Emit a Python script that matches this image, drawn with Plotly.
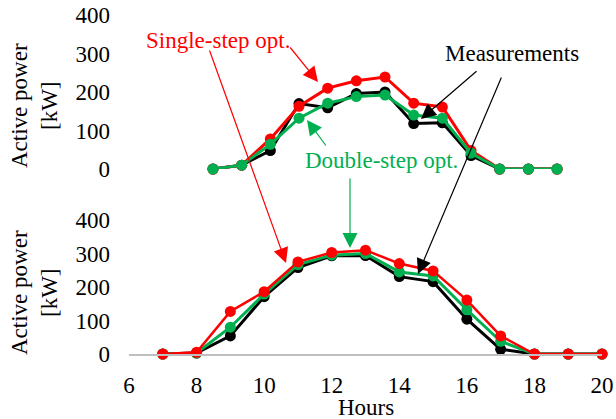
import plotly.graph_objects as go

# ---------------- data ----------------
top_hours = [7, 8, 9, 10, 11, 12, 13, 14, 15, 16, 17, 18, 19]
meas_top = [0, 10, 48, 170, 159, 196, 200, 118, 120, 35, 0, 0, 0]
single_top = [0, 10, 78, 163, 210, 229, 239, 171, 161, 48, 0, 0, 0]
double_top = [0, 10, 64, 132, 171, 188, 192, 140, 132, 41, 0, 0, 0]

bottom_hours = [7, 8, 9, 10, 11, 12, 13, 14, 15, 16, 17, 18, 19, 20]
meas_bottom = [0, 3, 54, 171, 258, 293, 294, 231, 216, 104, 14, 0, 0, 0]
single_bottom = [0, 5, 127, 186, 275, 303, 310, 270, 248, 161, 54, 0, 0, 0]
double_bottom = [0, 3, 80, 179, 267, 295, 300, 245, 233, 132, 38, 0, 0, 0]

y_ticks = [0, 100, 200, 300, 400]
x_ticks = [6, 8, 10, 12, 14, 16, 18, 20]

RED = "#ff0000"
GREEN = "#00b050"
BLACK = "#000000"
FONT = "Liberation Serif"
FS = 23

W, H = 616, 419
L, R, T, B = 129, 602, 15, 354
PW, PH = R - L, B - T


def xp(px):
    return (px - L) / PW


def yp(py):
    return (B - py) / PH


fig = go.Figure()


def add(x, y, color, xa, ya, lw=3):
    fig.add_trace(go.Scatter(
        x=x, y=y, mode="lines+markers", xaxis=xa, yaxis=ya,
        line=dict(color=color, width=lw),
        marker=dict(color=color, size=11),
        cliponaxis=False, showlegend=False, hoverinfo="skip"))


# top panel (order: black, red, green)
add(top_hours, meas_top, BLACK, "x2", "y2")
add(top_hours, single_top, RED, "x2", "y2")
add(top_hours, double_top, GREEN, "x2", "y2")
# bottom panel (order: black, green, red)
add(bottom_hours, meas_bottom, BLACK, "x", "y")
add(bottom_hours, double_bottom, GREEN, "x", "y")
add(bottom_hours, single_bottom, RED, "x", "y", lw=2.5)

tickfont = dict(family=FONT, size=FS, color="black")

# top x range so that points land at the reference spacing
step_px = 28.67
x2_lo = top_hours[0] - (213 - L) / step_px
x2_hi = x2_lo + PW / step_px

fig.update_layout(
    width=W, height=H,
    margin=dict(l=L, r=W - R, t=T, b=H - B, autoexpand=False),
    paper_bgcolor="white", plot_bgcolor="white",
    font=dict(family=FONT, size=FS, color="black"),
    xaxis=dict(domain=[0, 1], anchor="y", range=[6, 20], tickvals=x_ticks,
               showgrid=False, zeroline=False, showline=True,
               linecolor="#bfbfbf", linewidth=1.5, ticks="", automargin=False,
               tickfont=tickfont, ticklabelstandoff=10),
    yaxis=dict(domain=[0, yp(220)], anchor="x", range=[0, 400],
               tickvals=y_ticks, showgrid=False, zeroline=False, automargin=False,
               showline=False, ticks="", tickfont=tickfont,
               ticklabelstandoff=18),
    xaxis2=dict(domain=[0, 1], anchor="y2", range=[x2_lo, x2_hi],
                visible=False, automargin=False),
    yaxis2=dict(domain=[yp(169), 1], anchor="x2", range=[0, 400],
                tickvals=y_ticks, showgrid=False, zeroline=False, automargin=False,
                showline=False, ticks="", tickfont=tickfont,
                ticklabelstandoff=18),
)

ann = []


def text(label, px, py, color, angle=0):
    ann.append(dict(text=label, xref="paper", yref="paper", x=xp(px), y=yp(py),
                    xanchor="center", yanchor="middle", showarrow=False,
                    textangle=angle, font=dict(family=FONT, size=FS, color=color)))


def arrow(tail, tip, color):
    ann.append(dict(text="", xref="paper", yref="paper", x=xp(tip[0]), y=yp(tip[1]),
                    axref="pixel", ayref="pixel",
                    ax=tail[0] - tip[0], ay=tail[1] - tip[1],
                    showarrow=True, arrowhead=2, arrowsize=2.5, arrowwidth=1.2,
                    arrowcolor=color, standoff=0))


text("Single-step opt.", 218, 40, RED)
text("Measurements", 512, 53, BLACK)
text("Double-step opt.", 381, 160, GREEN)
text("Hours", 366, 407, BLACK)
text("Active power<br>[kW]", 34, 106, BLACK, -90)
text("Active power<br>[kW]", 34, 293, BLACK, -90)

arrow((289, 46), (318, 82), RED)
arrow((209, 49), (286, 263), RED)
arrow((478, 70), (421, 119), BLACK)
arrow((502, 76), (418, 274), BLACK)
arrow((327, 147), (307, 120), GREEN)
arrow((350, 177), (350, 248), GREEN)

fig.update_layout(annotations=ann)
fig.write_html(
    "out.html",
    config={"displayModeBar": False},
    post_script="document.body.style.margin='0';document.body.style.overflow='hidden';",
)
